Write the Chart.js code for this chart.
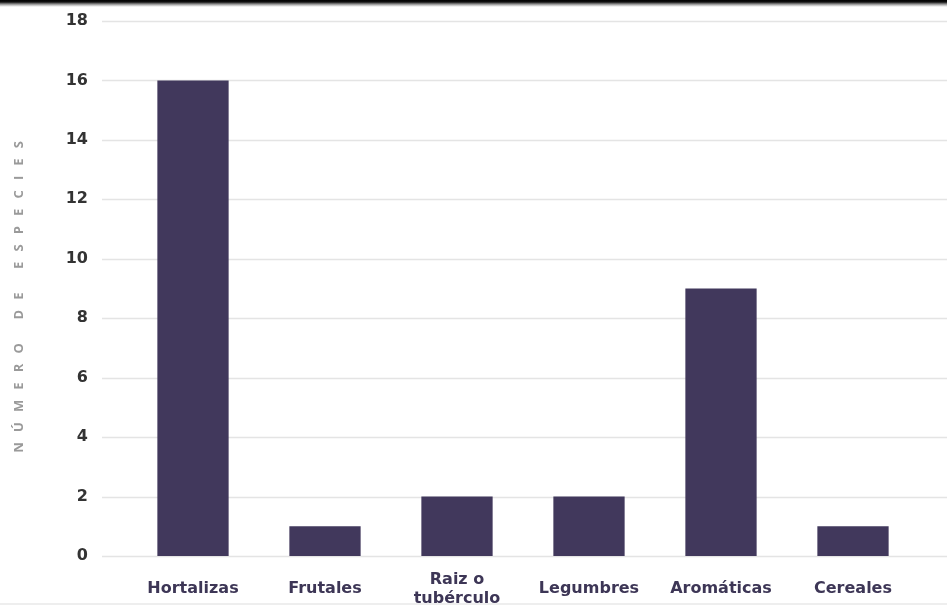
<!DOCTYPE html>
<html>
<head>
<meta charset="utf-8">
<script src="https://cdn.jsdelivr.net/npm/chart.js@4"></script>
<style>
    html, body { margin: 0; padding: 0; background: #fff; }
    #wrap { position: relative; width: 947px; height: 607px; overflow: hidden; }
    #topEdge {
        position: absolute; left: 0; top: 0; width: 947px; height: 7px;
        background: linear-gradient(#000 0px, #111 2px, #8a8a8a 4px, #e0e0e0 6px, #fff 7px);
    }
    #bottomEdge {
        position: absolute; left: 0; top: 603px; width: 947px; height: 2px;
        background: #eeeeee;
    }
</style>
</head>
<body>
<div id="wrap">
    <canvas id="speciesChart" width="947" height="607"></canvas>
    <div id="topEdge"></div>
    <div id="bottomEdge"></div>
</div>
<script>
// Data
const categories = ['Hortalizas', 'Frutales', ['Raiz o', 'tubérculo'], 'Legumbres', 'Aromáticas', 'Cereales'];
const speciesCount = [16, 1, 2, 2, 9, 1];
const yTicks = [0, 2, 4, 6, 8, 10, 12, 14, 16, 18];
// letter-spaced axis title (trailing spaces nudge it down a little)
const yTitle = 'N   Ú   M   E   R   O       D   E       E   S   P   E   C   I   E   S     ';

const barColor = '#41385c';

// Grid lines run wider than the bars' area, so draw them from the y scale
const wideGrid = {
    id: 'wideGrid',
    beforeDatasetsDraw(chart) {
        const ctx = chart.ctx;
        const y = chart.scales.y;
        ctx.save();
        ctx.strokeStyle = '#e4e4e4';
        ctx.lineWidth = 1.5;
        yTicks.forEach(v => {
            const py = Math.round(y.getPixelForValue(v)) + 0.5;
            ctx.beginPath();
            ctx.moveTo(102, py);
            ctx.lineTo(chart.width, py);
            ctx.stroke();
        });
        ctx.restore();
    }
};

function renderChart() {
    const ctx = document.getElementById('speciesChart').getContext('2d');

    new Chart(ctx, {
        type: 'bar',
        data: {
            labels: categories,
            datasets: [{
                data: speciesCount,
                backgroundColor: barColor,
                borderWidth: 0,
                barPercentage: 0.54,
                categoryPercentage: 1
            }]
        },
        options: {
            responsive: false,
            animation: false,
            layout: {
                padding: { top: 21, right: 28, bottom: 0, left: 0 }
            },
            plugins: {
                legend: { display: false },
                tooltip: { enabled: false }
            },
            scales: {
                x: {
                    grid: { display: false },
                    border: { display: false },
                    ticks: {
                        color: '#3d3656',
                        padding: 16,
                        crossAlign: 'center',
                        maxRotation: 0,
                        autoSkip: false,
                        font: { family: 'DejaVu Sans', size: 16, weight: 'bold', lineHeight: 1.15 }
                    },
                    afterFit(scale) {
                        scale.height = 51;
                    }
                },
                y: {
                    min: 0,
                    max: 18,
                    afterBuildTicks(scale) {
                        scale.ticks = yTicks.map(v => ({ value: v }));
                    },
                    // tick marks hidden, their length only spaces the labels
                    grid: { display: false, drawTicks: true, tickLength: 39 },
                    border: { display: false },
                    ticks: {
                        color: '#333333',
                        padding: 0,
                        font: { family: 'DejaVu Sans', size: 16, weight: 'bold' }
                    },
                    title: {
                        display: true,
                        text: yTitle,
                        color: '#9a9a9a',
                        padding: { top: 11, bottom: 0 },
                        font: { family: 'Open Sans', size: 13, weight: 'bold' }
                    },
                    afterFit(scale) {
                        scale.width = 127;
                    }
                }
            }
        },
        plugins: [wideGrid]
    });
}

document.addEventListener('DOMContentLoaded', renderChart);
</script>
</body>
</html>
